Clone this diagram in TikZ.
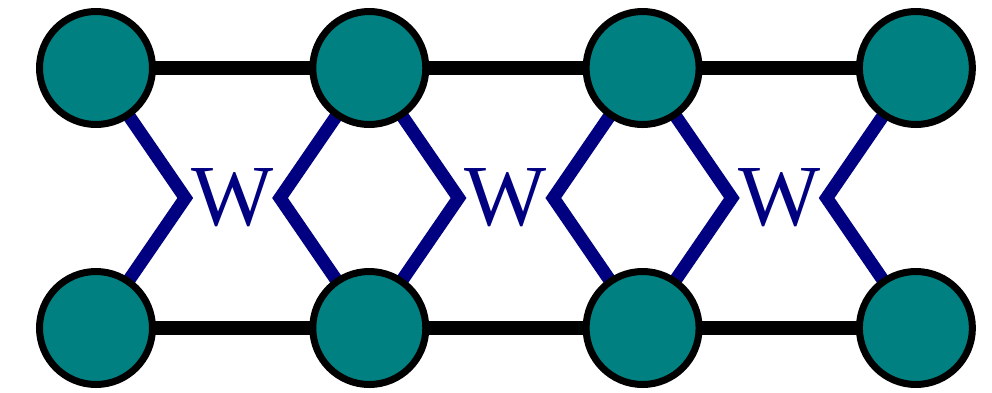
\documentclass[tikz,border=0pt]{standalone}
\usepackage{fontspec}
\usepackage{tikz}
\usetikzlibrary{backgrounds}
\newfontfamily\wfont{Liberation Serif}
\definecolor{siteteal}{RGB}{0,128,128}
\definecolor{wnavy}{RGB}{0,0,128}

\begin{document}
\begin{tikzpicture}[
    x=0.5pt, y=0.5pt,
    site/.style={
        circle, draw=black, fill=siteteal, line width=3.5pt,
        inner sep=0pt, minimum size=56.5pt
    },
    wgate/.style={
        rectangle, inner sep=0pt, minimum width=47pt, minimum height=30pt,
        text=wnavy, font=\wfont\fontsize{43.5}{43.5}\selectfont
    },
    bond/.style={black, line width=6.8pt},
    wleg/.style={wnavy, line width=6.5pt, line join=miter},
]

\def\S{273.3}  % column spacing
\def\XO{96}    % first column
\def\YT{-68}   % top row
\def\YB{-328}  % bottom row
\def\YM{-198}  % W row

\useasboundingbox (0,0) rectangle (992,-392);

%% ===================== SITES =====================
\foreach \c in {0,1,2,3} {
  \pgfmathsetmacro{\x}{\XO+\c*\S}
  \node[site] (T\c) at (\x,\YT) {};
  \node[site] (B\c) at (\x,\YB) {};
}

%% ===================== W GATES =====================
\foreach \c in {0,1,2} {
  \pgfmathsetmacro{\x}{\XO+(\c+0.5)*\S}
  \node[wgate] (W\c) at (\x,\YM) {W};
}

%% ===================== BONDS AND LEGS (under the sites) =====================
\begin{scope}[on background layer]
  \foreach \c/\n in {0/1, 1/2, 2/3} {
    \draw[bond] (T\c.center) -- (T\n.center);
    \draw[bond] (B\c.center) -- (B\n.center);
    \draw[wleg] (T\c.center) -- (W\c.west) -- (B\c.center);
    \draw[wleg] (T\n.center) -- (W\c.east) -- (B\n.center);
  }
\end{scope}

\end{tikzpicture}
\end{document}
